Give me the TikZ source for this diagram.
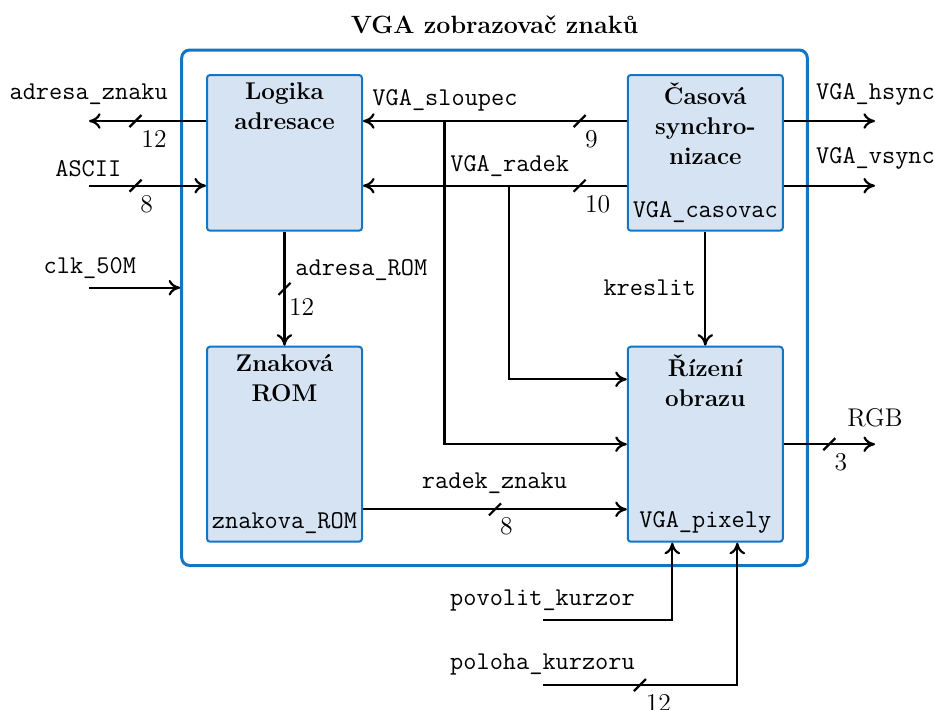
\documentclass[tikz,border=0pt]{standalone}
\usepackage{fontspec}
\usetikzlibrary{arrows.meta,calc}
\definecolor{boxblue}{RGB}{18,118,196}
\definecolor{boxfill}{RGB}{214,227,243}
\newcommand\myfs{\fontsize{12.8}{15.2}\selectfont}
\newcommand\blkfs{\fontsize{12.1}{15}\selectfont}
\newcommand\busmark[1]{\draw[wire] ($(#1)+(-6,6)$) -- ($(#1)+(6,-6)$);}
\begin{document}
\begin{tikzpicture}[x=0.5pt,y=-0.5pt,
  block/.style={draw=boxblue,fill=boxfill,line width=1pt,rounded corners=1.5pt,minimum width=77.5pt,inner sep=0pt},
  btitle/.style={anchor=north,align=center,font=\blkfs\bfseries,inner sep=4.2pt},
  bname/.style={anchor=south,font=\myfs\ttfamily,inner sep=4.5pt},
  sig/.style={anchor=base,font=\myfs\ttfamily,inner sep=0pt},
  num/.style={font=\myfs,inner sep=0pt},
  wire/.style={line width=1.1pt},
  arr/.style={wire,-{Computer Modern Rightarrow[length=5.8pt,width=7.8pt]}}
]
\useasboundingbox (0,0) rectangle (934,709);

% outer frame and title
\node[draw=boxblue,line width=1.5pt,rounded corners=4pt,inner sep=0pt,
      minimum width=312.8pt,minimum height=257.75pt] (outer) at (494.5,307.75) {};
\node[anchor=base,font=\fontsize{12.5}{15}\selectfont\bfseries,inner sep=0pt] (title) at (494.5,33.3) {VGA zobrazovač znaků};

% blocks
\node[block,minimum height=77.85pt] (logika) at (284.5,152.85) {};
\node[block,minimum height=77.85pt] (casova) at (705.3,152.85) {};
\node[block,minimum height=97.5pt] (znak) at (284.5,444.2) {};
\node[block,minimum height=97.5pt] (rizeni) at (705.3,444.2) {};

\node[btitle] (logikaT) at (logika.north) {Logika\\adresace};
\node[btitle] (casovaT) at (casova.north) {Časová\\synchro-\\nizace};
\node[btitle] (znakT) at (znak.north) {Znaková\\ROM};
\node[btitle] (rizeniT) at (rizeni.north) {Řízení\\obrazu};
\node[bname] (casovaB) at (casova.south) {VGA\_casovac};
\node[bname] (znakB) at (znak.south) {znakova\_ROM};
\node[bname] (rizeniB) at (rizeni.south) {VGA\_pixely};

% helper coordinates
\coordinate (azOut) at (89,121);
\coordinate (asciiIn) at (89,185.7);
\coordinate (clkIn) at (89,287.7);
\coordinate (slY) at (0,121);
\coordinate (raY) at (0,185.7);
\coordinate (slB) at (444.5,121);
\coordinate (raB) at (509.3,185.7);
\coordinate (raE) at (0,379.3);
\coordinate (hsOut) at (875,121);
\coordinate (vsOut) at (875,185.7);
\coordinate (rgbOut) at (875,444.2);
\coordinate (rzY) at (0,509.3);
\coordinate (povIn) at (543.3,620);
\coordinate (povX) at (672.3,620);
\coordinate (polIn) at (543.3,685);
\coordinate (polX) at (737.3,685);

% connectors
\draw[arr] (logika.west |- azOut) -- (azOut);
\draw[arr] (asciiIn) -- (logika.west |- asciiIn);
\draw[arr] (clkIn) -- (outer.west |- clkIn);
\draw[arr] (casova.west |- slY) -- (logika.east |- slY);
\draw[arr] (casova.west |- raY) -- (logika.east |- raY);
\draw[arr] (slB) |- (rizeni.west);
\draw[arr] (raB) |- (rizeni.west |- raE);
\draw[arr] (casova.south) -- (rizeni.north);
\draw[arr] (logika.south) -- (znak.north);
\draw[arr] (casova.east |- hsOut) -- (hsOut);
\draw[arr] (casova.east |- vsOut) -- (vsOut);
\draw[arr] (rizeni.east) -- (rgbOut);
\draw[arr] (znak.east |- rzY) -- (rizeni.west |- rzY);
\draw[arr] (povIn) -- (povX) -- (povX |- rizeni.south);
\draw[arr] (polIn) -- (polX) -- (polX |- rizeni.south);

% bus marks
\coordinate (bm1) at (135.5,121);
\coordinate (bm2) at (135.5,185.7);
\coordinate (bm3) at (579.7,121);
\coordinate (bm4) at (579.7,185.7);
\coordinate (bm5) at (284.5,288.8);
\coordinate (bm6) at (495,509.3);
\coordinate (bm7) at (829.3,444.2);
\coordinate (bm8) at (640,685);
\busmark{bm1}\busmark{bm2}\busmark{bm3}\busmark{bm4}
\busmark{bm5}\busmark{bm6}\busmark{bm7}\busmark{bm8}
\node[num] (n1) at (154,139.3) {12};
\node[num] (n2) at (146.7,204.3) {8};
\node[num] (n3) at (591.5,138.8) {9};
\node[num] (n4) at (597.6,204) {10};
\node[num] (n5) at (301.7,306.7) {12};
\node[num] (n6) at (506.5,526.7) {8};
\node[num] (n7) at (841,462) {3};
\node[num] (n8) at (658.3,703.3) {12};

% signal labels
\node[sig] (lAz) at (88.7,99.5) {adresa\_znaku};
\node[sig] (lAscii) at (88.3,176.7) {ASCII};
\node[sig] (lClk) at (89.8,273.3) {clk\_50M};
\node[sig,anchor=base west] (lAr) at (295,275) {adresa\_ROM};
\node[sig] (lSl) at (445,105.7) {VGA\_sloupec};
\node[sig] (lRa) at (509.7,171.7) {VGA\_radek};
\node[sig] (lHs) at (875.5,99) {VGA\_hsync};
\node[sig] (lVs) at (875.5,163.3) {VGA\_vsync};
\node[sig] (lKr) at (649.7,295) {kreslit};
\node[sig] (lRz) at (494.5,488.5) {radek\_znaku};
\node[sig,font=\myfs] (lRgb) at (875,426.7) {RGB};
\node[sig] (lPov) at (542.5,605.7) {povolit\_kurzor};
\node[sig] (lPol) at (542.5,669.3) {poloha\_kurzoru};
\end{tikzpicture}
\end{document}
